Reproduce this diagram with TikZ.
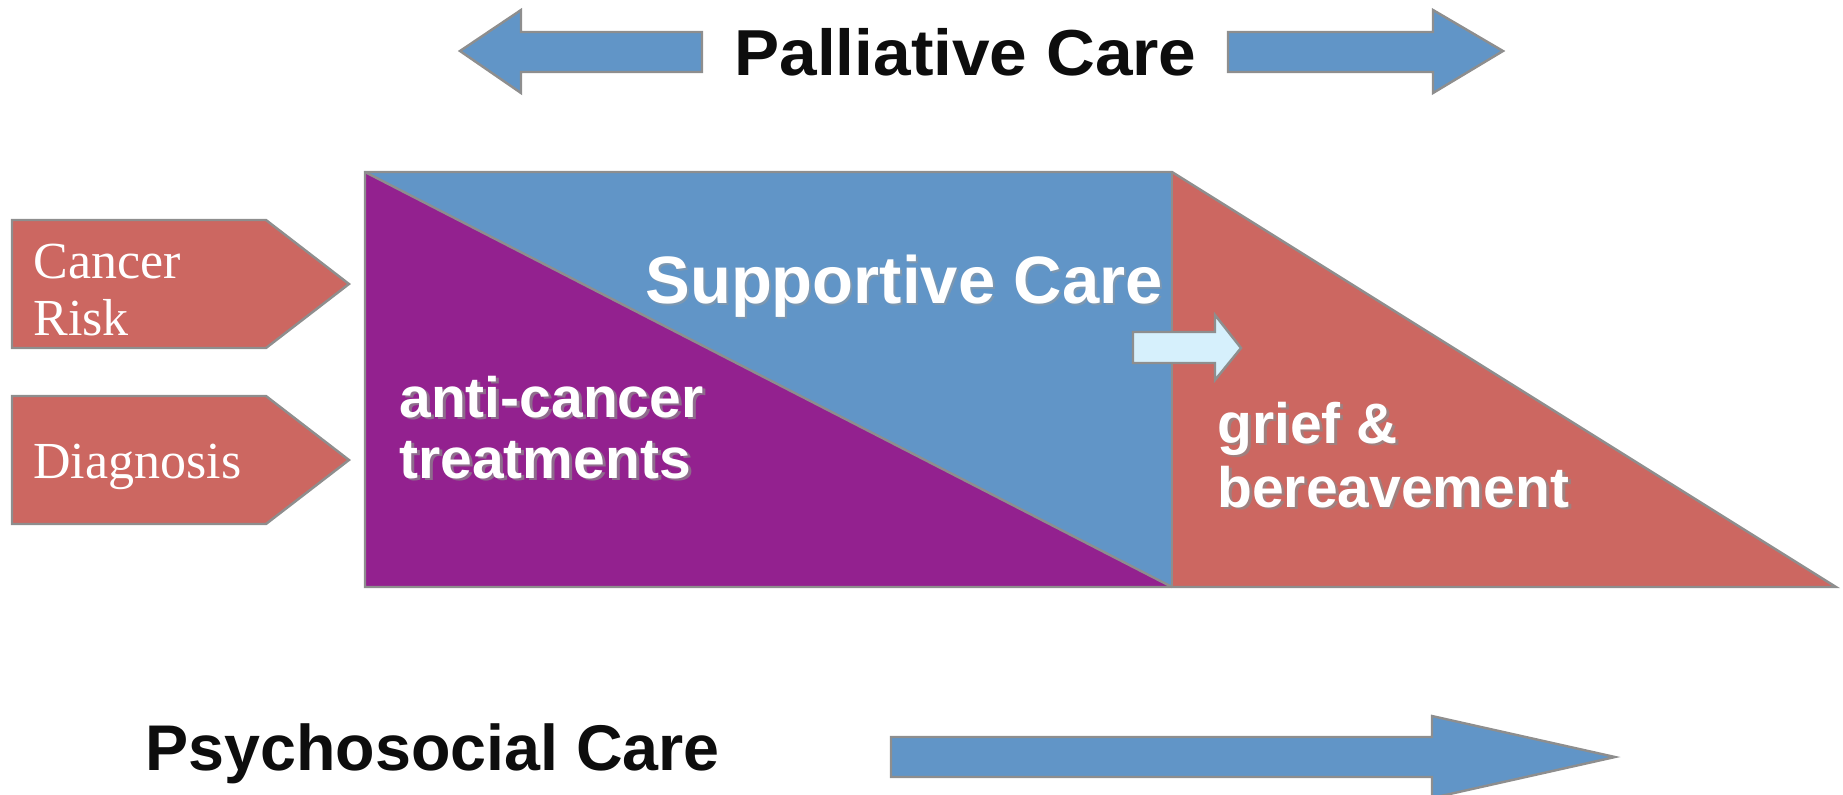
\documentclass[tikz,border=0pt]{standalone}
\usepackage{fontspec}
\setmainfont{Liberation Serif}
\newfontfamily\bsans{Liberation Sans}
\newfontfamily\bsanswide{Liberation Sans}[FakeStretch=1.04]
\definecolor{cblue}{HTML}{6195C7}
\definecolor{cred}{HTML}{CC6761}
\definecolor{cpurple}{HTML}{93218F}
\definecolor{clight}{HTML}{D6F0FC}
\definecolor{cline}{HTML}{8E8E8E}
\definecolor{ctext}{HTML}{0D0D0D}
\tikzset{
  shapeline/.style={draw=cline, line width=1.2pt, line join=miter},
  txt/.style={inner sep=0pt, anchor=base west},
  titletxt/.style={txt, text=ctext},
  whitetxt/.style={txt, text=white, font=\bsans\bfseries\fontsize{28.5}{31}\selectfont},
  shadowtxt/.style={txt, text=black!45, opacity=0.7, font=\bsans\bfseries\fontsize{28.5}{31}\selectfont},
  seriftxt/.style={txt, text=white, font=\fontsize{26}{29}\selectfont},
}
\begin{document}
\begin{tikzpicture}[x=0.5pt,y=-0.5pt]
\useasboundingbox (0,0) rectangle (1843,794);
\clip (0,0) rectangle (1843,794);
% main blocks
\coordinate (tl) at (365,172);
\coordinate (tm) at (1172,172);
\coordinate (bl) at (365,587);
\coordinate (bm) at (1172,587);
\coordinate (br) at (1836,587);
\fill[cpurple] (tl) -- (bm) -- (bl) -- cycle;
\fill[cblue] (tl) -- (tm) -- (bm) -- cycle;
\fill[cred] (tm) -- (br) -- (bm) -- cycle;
\draw[shapeline] (tl) -- (bm);
\draw[shapeline] (tl) -- (tm) -- (br) -- (bl) -- cycle;
\draw[shapeline] (tm) -- (bm);
% chevrons
\fill[cred] (12,220) -- (266,220) -- (349,284) -- (266,348) -- (12,348) -- cycle;
\draw[shapeline] (12,220) -- (266,220) -- (349,284) -- (266,348) -- (12,348) -- cycle;
\fill[cred] (12,396) -- (266,396) -- (349,460) -- (266,524) -- (12,524) -- cycle;
\draw[shapeline] (12,396) -- (266,396) -- (349,460) -- (266,524) -- (12,524) -- cycle;
\node[seriftxt] (cancer) at (33,278) {Cancer};
\node[seriftxt] (risk) at (33,335) {Risk};
\node[seriftxt] (diag) at (33,478) {Diagnosis};
% top arrows
\fill[cblue,shapeline] (460,51) -- (521,10) -- (521,32) -- (702,32) -- (702,72) -- (521,72) -- (521,93) -- cycle;
\fill[cblue,shapeline] (1503,51) -- (1433,10) -- (1433,32) -- (1228,32) -- (1228,72) -- (1433,72) -- (1433,93) -- cycle;
\node[titletxt, font=\bsanswide\bfseries\fontsize{32.5}{36}\selectfont] (palliative) at (734,75) {Palliative Care};
% bottom arrow
\fill[cblue,shapeline] (1615,757) -- (1432,716) -- (1432,737) -- (891,737) -- (891,777) -- (1432,777) -- (1432,798) -- cycle;
\node[titletxt, font=\bsans\bfseries\fontsize{32.3}{36}\selectfont] (psycho) at (145,770) {Psychosocial Care};
% small arrow
\fill[clight,shapeline] (1241,348) -- (1215,315) -- (1215,332) -- (1133,332) -- (1133,363) -- (1215,363) -- (1215,380) -- cycle;
% white labels
\node[txt, text=black!40, opacity=0.5, font=\bsans\bfseries\fontsize{33.5}{38}\selectfont] at (647,305) {Supportive Care};
\node[txt, text=white, font=\bsans\bfseries\fontsize{33.5}{38}\selectfont] (supportive) at (645,303) {Supportive Care};
\node[shadowtxt] at (402,419) {anti-cancer};
\node[whitetxt] (anti) at (399,417) {anti-cancer};
\node[shadowtxt] at (402,480) {treatments};
\node[whitetxt] (treat) at (399,478) {treatments};
\node[shadowtxt] at (1220,445) {grief \&};
\node[whitetxt] (grief) at (1217,443) {grief \&};
\node[shadowtxt] at (1220,509) {bereavement};
\node[whitetxt] (bereave) at (1217,507) {bereavement};
\end{tikzpicture}
\end{document}
